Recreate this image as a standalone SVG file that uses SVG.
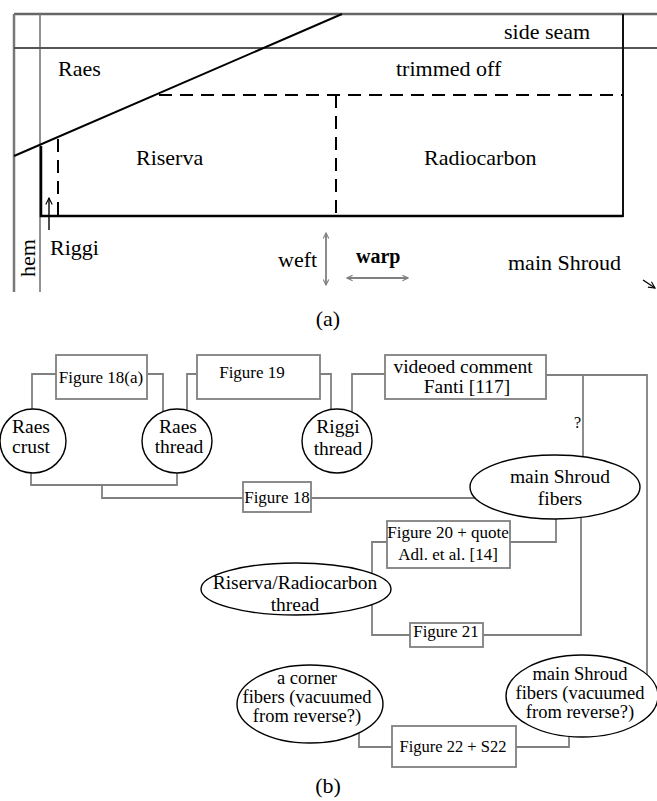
<svg xmlns="http://www.w3.org/2000/svg" width="657" height="801" viewBox="0 0 657 801">
<style>
text{font-family:"Liberation Serif","Times New Roman",serif;fill:#000}
.a{font-size:22px}
.e{font-size:19.5px;text-anchor:middle}
.e3{font-size:18.5px;text-anchor:middle}
.f{font-size:17px;text-anchor:middle}
.box{fill:#fff;stroke:#808080;stroke-width:1.8}
.ell{fill:#fff;stroke:#000;stroke-width:1.4}
.con{fill:none;stroke:#808080;stroke-width:1.8}
.dash{fill:none;stroke:#000;stroke-width:2;stroke-dasharray:13 8}
</style>
<defs>
<marker id="vg" viewBox="0 0 10 10" refX="9" refY="5" markerWidth="7" markerHeight="7" orient="auto-start-reverse" markerUnits="userSpaceOnUse"><path d="M1,1 L9,5 L1,9" fill="none" stroke="#808080" stroke-width="1.6"/></marker>
<marker id="vb" viewBox="0 0 10 10" refX="9" refY="5" markerWidth="8" markerHeight="8" orient="auto" markerUnits="userSpaceOnUse"><path d="M1,1 L9,5 L1,9" fill="none" stroke="#000" stroke-width="1.4"/></marker>
</defs>
<!-- (a) -->
<g id="panel-a">
<line x1="14" y1="14" x2="657" y2="14" stroke="#666" stroke-width="2.5"/>
<line x1="14" y1="14" x2="14" y2="292" stroke="#777" stroke-width="2.5"/>
<line x1="40" y1="14" x2="40" y2="292" stroke="#777" stroke-width="1.6"/>
<line x1="14" y1="48" x2="657" y2="48" stroke="#555" stroke-width="2"/>
<line x1="623" y1="14" x2="623" y2="217" stroke="#111" stroke-width="2"/>
<line x1="14" y1="156" x2="342" y2="14" stroke="#000" stroke-width="2"/>
<line x1="159" y1="95" x2="623" y2="95" class="dash"/>
<line x1="336" y1="95" x2="336" y2="216" class="dash"/>
<line x1="58" y1="139" x2="58" y2="216" class="dash"/>
<polyline points="41,146 41,216 623,216" fill="none" stroke="#000" stroke-width="2.5"/>
<line x1="49" y1="230" x2="49" y2="198" stroke="#000" stroke-width="1.4" marker-end="url(#vb)"/>
<line x1="326" y1="285" x2="326" y2="233" stroke="#808080" stroke-width="1.8" marker-start="url(#vg)" marker-end="url(#vg)"/>
<line x1="347" y1="278" x2="408" y2="278" stroke="#808080" stroke-width="1.8" marker-start="url(#vg)" marker-end="url(#vg)"/>
<line x1="643" y1="280" x2="655" y2="288" stroke="#000" stroke-width="1.4" marker-end="url(#vb)"/>
<text class="a" x="504" y="39">side seam</text>
<text class="a" x="58" y="76">Raes</text>
<text class="a" x="396" y="76">trimmed off</text>
<text class="a" x="136" y="165">Riserva</text>
<text class="a" x="424" y="165">Radiocarbon</text>
<text class="a" x="50" y="255">Riggi</text>
<text class="a" transform="translate(35,277) rotate(-90)">hem</text>
<text class="a" x="278" y="267">weft</text>
<text class="a" x="356" y="263" font-weight="bold" style="font-size:20px">warp</text>
<text class="a" x="508" y="270">main Shroud</text>
<text class="a" x="328" y="326" text-anchor="middle">(a)</text>
</g>
<!-- (b) connectors -->
<g id="connectors">
<polyline class="con" points="32,409 32,374 56,374"/>
<polyline class="con" points="147,374 163,374 163,412"/>
<polyline class="con" points="197,374 187,374 187,410"/>
<polyline class="con" points="320,374 331,374 331,410"/>
<polyline class="con" points="352,412 352,374 385,374"/>
<polyline class="con" points="546,375 647,375 647,675"/>
<polyline class="con" points="583,375 583,457"/>
<polyline class="con" points="31,473 31,485 177,485 177,473"/>
<polyline class="con" points="102,485 102,498 243,498"/>
<polyline class="con" points="311,498 475,498"/>
<polyline class="con" points="510,542 556,542 556,519"/>
<polyline class="con" points="387,542 372,542 372,573"/>
<polyline class="con" points="372,605 372,635 410,635"/>
<polyline class="con" points="483,635 581,635 581,517"/>
<polyline class="con" points="359,733 359,747 392,747"/>
<polyline class="con" points="516,747 569,747 569,736"/>
<text x="574" y="428" style="font-size:16px">?</text>
</g>
<g id="fig18a"><rect class="box" x="56" y="355" width="91" height="44"/><text class="f" x="101" y="383">Figure 18(a)</text></g>
<g id="fig19"><rect class="box" x="197" y="355" width="123" height="44"/><text class="f" x="252" y="378">Figure 19</text></g>
<g id="videoed"><rect class="box" x="385" y="355" width="161" height="44"/><text class="e" x="463" y="373">videoed comment</text><text class="e" x="467" y="393">Fanti [117]</text></g>
<g id="raesCrust"><ellipse class="ell" cx="33" cy="441" rx="33" ry="32"/><text class="e" x="31" y="433">Raes</text><text class="e" x="31" y="453">crust</text></g>
<g id="raesThread"><ellipse class="ell" cx="177" cy="441" rx="35" ry="32"/><text class="e" x="178" y="433">Raes</text><text class="e" x="179" y="453">thread</text></g>
<g id="riggiThread"><ellipse class="ell" cx="337" cy="441" rx="35" ry="32"/><text class="e" x="338" y="433">Riggi</text><text class="e" x="338" y="455">thread</text></g>
<g id="fig18"><rect class="box" x="243" y="482" width="68" height="30"/><text class="f" x="277" y="503">Figure 18</text></g>
<g id="mainShroud"><ellipse class="ell" cx="555" cy="487" rx="85" ry="32"/><text class="e" x="560" y="483">main Shroud</text><text class="e" x="560" y="505">fibers</text></g>
<g id="fig20"><rect class="box" x="387" y="521" width="123" height="47"/><text class="f" x="448" y="538">Figure 20 + quote</text><text class="f" x="448" y="560">Adl. et al. [14]</text></g>
<g id="riserva"><ellipse class="ell" cx="296" cy="589" rx="95" ry="26"/><text class="e" x="295" y="589">Riserva/Radiocarbon</text><text class="e" x="295" y="611">thread</text></g>
<g id="fig21"><rect class="box" x="410" y="623" width="73" height="24"/><text class="f" x="446" y="637">Figure 21</text></g>
<g id="corner"><ellipse class="ell" cx="310" cy="704" rx="73" ry="39"/><text class="e3" x="307" y="684">a corner</text><text class="e3" x="307" y="703">fibers (vacuumed</text><text class="e3" x="307" y="722">from reverse?)</text></g>
<g id="mainShroud2"><ellipse class="ell" cx="582" cy="696" rx="76" ry="41"/><text class="e3" x="580" y="680">main Shroud</text><text class="e3" x="580" y="699">fibers (vacuumed</text><text class="e3" x="580" y="718">from reverse?)</text></g>
<g id="fig22"><rect class="box" x="392" y="726" width="124" height="41"/><text class="f" x="453" y="752" style="font-size:16.5px">Figure 22 + S22</text></g>
<text class="a" x="328" y="793" text-anchor="middle">(b)</text>
</svg>
